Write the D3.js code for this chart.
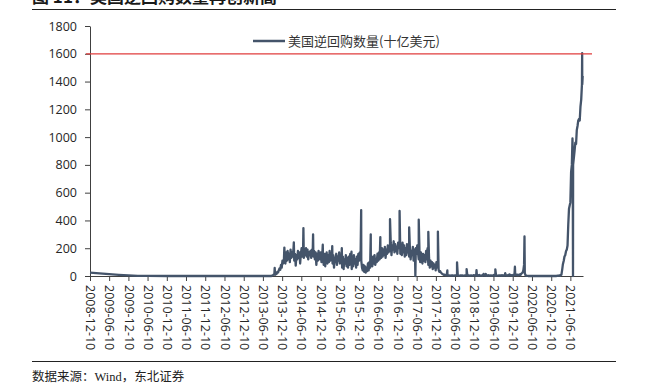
<!DOCTYPE html>
<html>
<head>
<meta charset="utf-8">
<script src="https://cdn.jsdelivr.net/npm/d3@7"></script>
<style>
    body { margin: 0; background: #ffffff; }
    svg { display: block; }
</style>
</head>
<body>
<div id="chart"></div>
<script>
// 2008-2013: sparse points, line decays to zero
const sparseDates = ["2008-12-10", "2009-03-10", "2009-06-10", "2009-09-10", "2009-12-10", "2010-03-10", "2010-06-10",
    "2010-12-10", "2011-06-10", "2011-12-10", "2012-06-10", "2012-12-10", "2013-06-10", "2013-08-30"];
const sparseValues = [25, 19, 13, 8, 4, 1.5, 0.5, 0, 0, 0, 0, 0, 0, 0];

// weekly readings (Fridays) starting here, one array per year
const weeklyStart = "2013-09-06";
const weekly2013 = [3, 6, 10, 12, 8, 20, 15, 30, 25, 40, 55, 45, 80, 60, 110, 90, 120];
const weekly2014 = [150, 90, 170, 110, 180, 120, 160, 100, 190, 130, 170, 140, 200, 110, 160, 75, 150,
    120, 180, 130, 170, 90, 160, 200, 140, 190, 130, 180, 150, 200, 140, 190, 120, 170, 150, 180,
    130, 190, 160, 140, 180, 120, 170, 80, 160, 110, 180, 140, 120, 170, 100, 150];
const weekly2015 = [140, 80, 160, 70, 130, 170, 90, 150, 100, 180, 110, 160, 120, 90, 150, 60, 130,
    100, 160, 80, 140, 110, 170, 90, 150, 120, 60, 140, 50, 120, 90, 150, 70, 130, 60, 140, 80,
    160, 100, 50, 130, 70, 150, 90, 120, 60, 140, 80, 160, 110, 170, 130];
const weekly2016 = [110, 60, 40, 80, 30, 70, 25, 60, 35, 90, 40, 100, 60, 80, 130, 70, 140, 90, 150,
    80, 120, 100, 160, 110, 170, 120, 180, 130, 200, 140, 190, 150, 210, 130, 190, 160, 220, 170,
    200, 180, 240, 150, 220, 190, 250, 170, 230, 180, 210, 160, 240, 200];
const weekly2017 = [230, 160, 210, 150, 240, 170, 220, 140, 200, 150, 230, 170, 190, 140, 200, 120,
    180, 150, 210, 110, 190, 130, 200, 160, 220, 170, 120, 180, 100, 170, 140, 90, 160, 110, 150,
    100, 180, 120, 200, 80, 130, 60, 110, 70, 100, 50, 90, 60, 80, 40, 100, 70];
const weekly2018 = [60, 45, 30, 35, 25, 20, 15, 12, 8, 10, 6, 5, 8, 4, 3, 5, 2, 3, 4, 2, 5, 3, 2, 4,
    3, 6, 8, 4, 3, 2, 3, 5, 2, 4, 3, 2, 3, 5, 4, 6, 3, 2, 4, 3, 2, 5, 3, 2, 4, 6, 3, 5];
const weekly2019 = [3, 2, 5, 2, 8, 3, 2, 4, 1, 3, 15, 4, 2, 3, 1, 4, 2, 6, 3, 2, 5, 3, 2, 4, 8,
    3, 1, 2, 4, 3, 2, 5, 3, 4, 2, 6, 3, 5, 2, 4, 10, 3, 2, 6, 3, 12, 4, 8, 5, 3, 7, 4];
const weekly2020 = [15, 8, 12, 6, 10, 5, 8, 12, 6, 15, 20, 25, 40, 80, 20, 5, 2, 1,
    1, 0, 0, 1, 0, 0, 0, 1, 0, 0, 1, 0, 0, 0, 0, 1, 0, 0, 0, 0, 1, 0, 0, 0, 0, 0, 1, 0, 0, 0, 0, 0, 1, 0];
const weekly2021 = [0, 0, 1, 0, 1, 0, 2, 1, 3, 5];

// quarter-end spikes and holiday gaps
const spikeDates = ["2013-09-30", "2013-12-31", "2014-03-31", "2014-06-30", "2014-09-30", "2014-12-31",
    "2015-03-31", "2015-06-30", "2015-09-30", "2015-12-31", "2016-03-31", "2016-06-30", "2016-09-30",
    "2016-12-30", "2017-03-31", "2017-05-29", "2017-06-30", "2017-09-29", "2017-12-29", "2018-03-29",
    "2018-06-29", "2018-09-28", "2018-12-31", "2019-03-29", "2019-06-28", "2019-09-30", "2019-12-31",
    "2020-03-31"];
const spikeValues = [58, 205, 242, 345, 300, 225, 215, 200, 175, 475, 300, 280, 410,
    468, 350, 0, 405, 318, 320, 40, 98, 50, 43, 15, 48, 20, 67, 285];

// 2021 surge
const rampDates = ["2021-03-05", "2021-03-17", "2021-03-25", "2021-03-31", "2021-04-08", "2021-04-15",
    "2021-04-22", "2021-04-30", "2021-05-07", "2021-05-14", "2021-05-21", "2021-05-28", "2021-06-04",
    "2021-06-10", "2021-06-17", "2021-06-24", "2021-06-30", "2021-07-02", "2021-07-05", "2021-07-06",
    "2021-07-13", "2021-07-20", "2021-07-27", "2021-08-03", "2021-08-10", "2021-08-17", "2021-08-24",
    "2021-08-31", "2021-09-07", "2021-09-14", "2021-09-21", "2021-09-28", "2021-09-30", "2021-10-01",
    "2021-10-05"];
const rampValues = [2, 10, 50, 85, 110, 140, 150, 180, 190, 220, 370, 485, 510,
    530, 750, 800, 990, 920, 0, 800, 850, 900, 960, 950, 1050, 1080, 1120,
    1130, 1120, 1220, 1270, 1380, 1605, 1380, 1440];

const yTicks = [0, 200, 400, 600, 800, 1000, 1200, 1400, 1600, 1800];
const tickLabels = ["2008-12-10", "2009-06-10", "2009-12-10", "2010-06-10", "2010-12-10", "2011-06-10",
    "2011-12-10", "2012-06-10", "2012-12-10", "2013-06-10", "2013-12-10", "2014-06-10", "2014-12-10",
    "2015-06-10", "2015-12-10", "2016-06-10", "2016-12-10", "2017-06-10", "2017-12-10", "2018-06-10",
    "2018-12-10", "2019-06-10", "2019-12-10", "2020-06-10", "2020-12-10", "2021-06-10"];
const refLevel = 1600;
const seriesName = "美国逆回购数量(十亿美元)";

const parseDate = d3.timeParse("%Y-%m-%d");

function BuildSeries() {
    let series = [];
    sparseDates.forEach((d, i) => series.push({ date: parseDate(d), value: sparseValues[i] }));

    let weekly = [].concat(weekly2013, weekly2014, weekly2015, weekly2016, weekly2017,
        weekly2018, weekly2019, weekly2020, weekly2021);
    let start = parseDate(weeklyStart);
    weekly.forEach((v, i) => series.push({ date: d3.timeDay.offset(start, 7 * i), value: v }));

    spikeDates.forEach((d, i) => series.push({ date: parseDate(d), value: spikeValues[i] }));
    rampDates.forEach((d, i) => series.push({ date: parseDate(d), value: rampValues[i] }));

    series.sort((a, b) => a.date - b.date);
    return series;
}

function Render(containerSelector) {
    const width = 648, height = 389;
    const plot = { left: 90, right: 583, top: 26, bottom: 276 };
    const lineColor = "#44546a";

    let svg = d3.select(containerSelector)
        .append("svg")
        .attr("width", width)
        .attr("height", height)
        .style("background-color", "#ffffff");

    // figure title, cut off at the top edge like the source page
    svg.append("text")
        .attr("x", 32)
        .attr("y", 3)
        .attr("font-family", "'Noto Sans CJK SC', sans-serif")
        .attr("font-size", 17)
        .attr("font-weight", "bold")
        .attr("fill", "#1a1a1a")
        .text("图 11：美国逆回购数量再创新高");

    svg.append("line")
        .attr("x1", 32).attr("x2", 616)
        .attr("y1", 9.5).attr("y2", 9.5)
        .attr("stroke", "#222").attr("stroke-width", 1);

    svg.append("line")
        .attr("x1", 32).attr("x2", 616)
        .attr("y1", 361.5).attr("y2", 361.5)
        .attr("stroke", "#222").attr("stroke-width", 1);

    svg.append("text")
        .attr("x", 32)
        .attr("y", 381)
        .attr("font-family", "'Liberation Serif', 'Noto Sans CJK SC', serif")
        .attr("font-size", 12.5)
        .attr("fill", "#222")
        .text("数据来源：Wind，东北证券");

    let x = d3.scaleTime()
        .domain([parseDate("2008-12-10"), parseDate("2021-10-08")])
        .range([plot.left, plot.right]);

    let y = d3.scaleLinear()
        .domain([0, 1800])
        .range([plot.bottom, plot.top]);

    // y axis
    let yAxis = svg.append("g")
        .attr("class", "y-axis")
        .attr("transform", `translate(${plot.left}, 0)`)
        .call(d3.axisLeft(y)
            .tickValues(yTicks)
            .tickFormat(d3.format("d"))
            .tickSize(5)
            .tickSizeOuter(0)
            .tickPadding(8));

    // x axis
    let xAxis = svg.append("g")
        .attr("class", "x-axis")
        .attr("transform", `translate(0, ${plot.bottom})`)
        .call(d3.axisBottom(x)
            .tickValues(tickLabels.map(parseDate))
            .tickFormat(d3.timeFormat("%Y-%m-%d"))
            .tickSize(5)
            .tickSizeOuter(0));

    xAxis.selectAll("text")
        .attr("transform", "rotate(90)")
        .attr("x", 9)
        .attr("y", 0)
        .attr("dy", "0.35em")
        .style("text-anchor", "start");

    [yAxis, xAxis].forEach(function (axis) {
        axis.selectAll("path, line").attr("stroke", "#404040");
        axis.selectAll("text")
            .attr("fill", "#262626")
            .attr("font-family", "'Open Sans', sans-serif")
            .attr("font-size", 12.5);
    });

    // series
    let series = BuildSeries();
    let line = d3.line()
        .x(d => x(d.date))
        .y(d => y(d.value));

    svg.append("path")
        .datum(series)
        .attr("class", "series")
        .attr("fill", "none")
        .attr("stroke", lineColor)
        .attr("stroke-width", 2.3)
        .attr("stroke-linejoin", "round")
        .attr("d", line);

    // red reference line
    svg.append("line")
        .attr("x1", plot.left - 4).attr("x2", 592)
        .attr("y1", y(refLevel)).attr("y2", y(refLevel))
        .attr("stroke", "#e03c3c")
        .attr("stroke-width", 1.2);

    // legend
    let legend = svg.append("g").attr("class", "legend");
    legend.append("line")
        .attr("x1", 253).attr("x2", 285)
        .attr("y1", 41).attr("y2", 41)
        .attr("stroke", lineColor)
        .attr("stroke-width", 2.5);
    legend.append("text")
        .attr("x", 288)
        .attr("y", 45.5)
        .attr("font-family", "'Noto Sans CJK SC', sans-serif")
        .attr("font-size", 13)
        .attr("fill", "#333")
        .text(seriesName);
}

Render("#chart");
</script>
</body>
</html>
